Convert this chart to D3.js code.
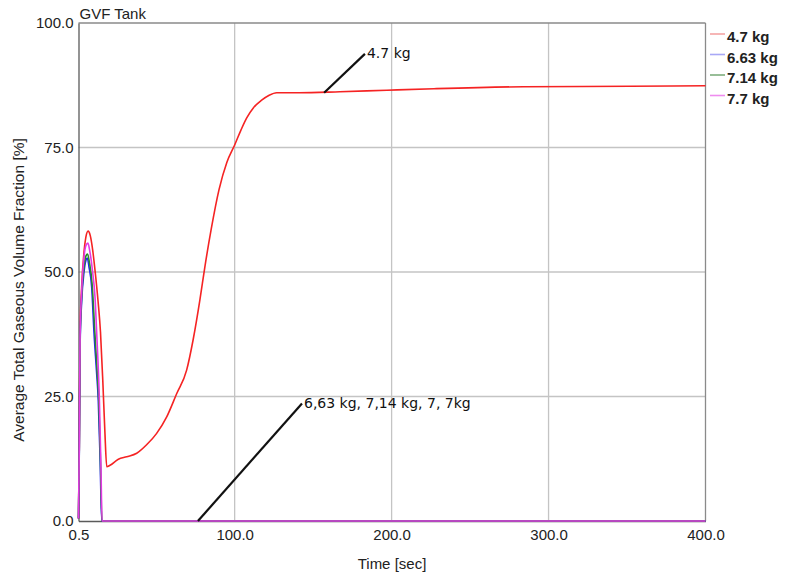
<!DOCTYPE html>
<html>
<head>
<meta charset="utf-8">
<script src="https://cdn.jsdelivr.net/npm/d3@7"></script>
<style>
  body { margin: 0; background: #fff; }
  svg { display: block; font-family: "Liberation Sans", Arial, sans-serif; }
</style>
</head>
<body>
<div id="chart"></div>
<script>
// time [sec] and GVF [%]
const t47 = [0.5, 1.0, 1.5, 2.5, 4, 5.2, 6.6, 8, 9.5, 11, 13, 14.5, 16, 17.3, 18.5, 20.6, 25.9, 31.2, 37.6, 43.9, 50.3, 56.7, 63.1, 69.4, 73.6, 77.9, 81, 85, 90, 95, 100, 104, 107.6, 112, 117.2, 122, 126.8, 141, 167, 197, 227, 284, 352, 400];
const v47 = [0.5, 15, 38, 47, 54, 57, 58.2, 57.3, 54.5, 50.4, 44, 38, 28, 18, 10.9, 11.2, 12.4, 12.9, 13.6, 15.3, 17.6, 20.9, 25.6, 30.3, 36.5, 44.5, 51, 58.5, 66.5, 72, 75.5, 78.5, 80.9, 83, 84.5, 85.5, 86, 86, 86.2, 86.5, 86.8, 87.2, 87.3, 87.4];

const t663 = [0.5, 1.0, 1.5, 2.5, 4, 5.2, 6.1, 7.2, 8.9, 10.4, 12, 13.1, 14.3, 15.3, 100, 200, 300, 400];
const v663 = [0.5, 14, 35, 44, 50, 52.3, 52.8, 51, 47, 37.7, 30, 24.3, 12, 0, 0, 0, 0, 0];

const t714 = [0.5, 1.0, 1.5, 2.5, 4, 5.2, 6.3, 7.4, 9.2, 10.8, 12.3, 13.4, 14.5, 15.4, 100, 200, 300, 400];
const v714 = [0.5, 14.5, 36, 45, 51, 53.2, 53.6, 52, 47.5, 38.5, 30.5, 24.3, 12, 0, 0, 0, 0, 0];

const t77 = [0.5, 1.0, 1.5, 2.5, 4, 5.2, 6.5, 7.8, 9.5, 11, 12.1, 13.8, 14.8, 15.5, 100, 200, 300, 400];
const v77 = [0.5, 15, 37, 46, 53, 55.3, 55.8, 54, 50, 45, 37.7, 24.3, 11, 0, 0, 0, 0, 0];

const seriesNames = ["4.7 kg", "6.63 kg", "7.14 kg", "7.7 kg"];
const seriesColors = ["#f52323", "#2323f5", "#2a8a2a", "#e43ae4"];
const legendColors = ["#f4a4a4", "#a8a8f6", "#7fae7f", "#ef8cef"];

const xTicks = [0.5, 100, 200, 300, 400];
const yTicks = [0, 25, 50, 75, 100];

// annotation: from (t, v) on curve to (t, v) at label
const notes = [
  { text: "4.7 kg", from: [157, 86], to: [183, 93.8] },
  { text: "6,63 kg, 7,14 kg, 7, 7kg", from: [76.6, 0], to: [142.9, 23.6] }
];

const width = 785, height = 578;
const margin = { top: 23, right: 79.5, bottom: 57, left: 78.5 };

const svg = d3.select("#chart").append("svg")
  .attr("width", width)
  .attr("height", height);

const x = d3.scaleLinear().domain([0.5, 400]).range([margin.left, width - margin.right]);
const y = d3.scaleLinear().domain([0, 100]).range([height - margin.bottom, margin.top]);

// grid
svg.append("g")
  .selectAll("line")
  .data(xTicks.slice(1, -1))
  .join("line")
    .attr("x1", d => x(d)).attr("x2", d => x(d))
    .attr("y1", y(0)).attr("y2", y(100))
    .attr("stroke", "#c4c4c4").attr("stroke-width", 1.3);

svg.append("g")
  .selectAll("line")
  .data(yTicks.slice(1, -1))
  .join("line")
    .attr("x1", x(0.5)).attr("x2", x(400))
    .attr("y1", d => y(d)).attr("y2", d => y(d))
    .attr("stroke", "#c4c4c4").attr("stroke-width", 1.3);

// frame
svg.append("line").attr("x1", x(0.5)).attr("x2", x(400)).attr("y1", y(100)).attr("y2", y(100))
  .attr("stroke", "#8a8a8a").attr("stroke-width", 1.3);
svg.append("line").attr("x1", x(400)).attr("x2", x(400)).attr("y1", y(0)).attr("y2", y(100))
  .attr("stroke", "#8a8a8a").attr("stroke-width", 1.3);

// axes
const xAxis = svg.append("g")
  .attr("transform", `translate(0,${y(0)})`)
  .call(d3.axisBottom(x).tickValues(xTicks).tickFormat(d3.format(".1f")).tickSize(0).tickPadding(8));
const yAxis = svg.append("g")
  .attr("transform", `translate(${x(0.5)},0)`)
  .call(d3.axisLeft(y).tickValues(yTicks).tickFormat(d3.format(".1f")).tickSize(0).tickPadding(5));

[xAxis, yAxis].forEach(g => {
  g.select(".domain").attr("stroke", "#5a5a5a").attr("stroke-width", 1.3);
  g.selectAll("text").attr("fill", "#222").style("font-size", "15px").style("font-family", "'Liberation Sans', Arial, sans-serif");
});

// lines
const line = d3.line().x(d => x(d[0])).y(d => y(d[1])).curve(d3.curveMonotoneX);
const allSeries = [
  d3.zip(t47, v47),
  d3.zip(t663, v663),
  d3.zip(t714, v714),
  d3.zip(t77, v77)
];

svg.append("g")
  .attr("fill", "none")
  .selectAll("path")
  .data(allSeries)
  .join("path")
    .attr("d", line)
    .attr("stroke", (d, i) => seriesColors[i])
    .attr("stroke-width", 1.6)
    .attr("stroke-linejoin", "round");

// annotations
const ann = svg.append("g");
ann.selectAll("line")
  .data(notes)
  .join("line")
    .attr("x1", d => x(d.from[0])).attr("y1", d => y(d.from[1]))
    .attr("x2", d => x(d.to[0])).attr("y2", d => y(d.to[1]))
    .attr("stroke", "#111").attr("stroke-width", 2.2);
ann.selectAll("text")
  .data(notes)
  .join("text")
    .attr("x", d => x(d.to[0]) + 2)
    .attr("y", d => y(d.to[1]))
    .attr("dy", "0.3em")
    .style("font-family", "'DejaVu Sans', Verdana, sans-serif")
    .style("font-size", "14px")
    .attr("fill", "#111")
    .text(d => d.text);

// title + axis labels
svg.append("text")
  .attr("x", x(0.5) + 1).attr("y", 19)
  .style("font-size", "15px").attr("fill", "#222")
  .text("GVF Tank");

svg.append("text")
  .attr("x", (x(0.5) + x(400)) / 2).attr("y", 569)
  .attr("text-anchor", "middle")
  .style("font-size", "15px").attr("fill", "#222")
  .text("Time [sec]");

svg.append("text")
  .attr("transform", `translate(24,${(y(0) + y(100)) / 2 + 18}) rotate(-90)`)
  .attr("text-anchor", "middle")
  .style("font-size", "15.5px").attr("fill", "#222")
  .text("Average Total Gaseous Volume Fraction [%]");

// legend
const legend = svg.append("g")
  .selectAll("g")
  .data(seriesNames)
  .join("g")
    .attr("transform", (d, i) => `translate(710,${34 + i * 20.5})`);
legend.append("line")
  .attr("x1", 0).attr("x2", 15)
  .attr("stroke", (d, i) => legendColors[i]).attr("stroke-width", 1.6);
legend.append("text")
  .attr("x", 17).attr("dy", "0.55em")
  .style("font-size", "15px").style("font-weight", "bold").attr("fill", "#222")
  .text(d => d);
</script>
</body>
</html>
